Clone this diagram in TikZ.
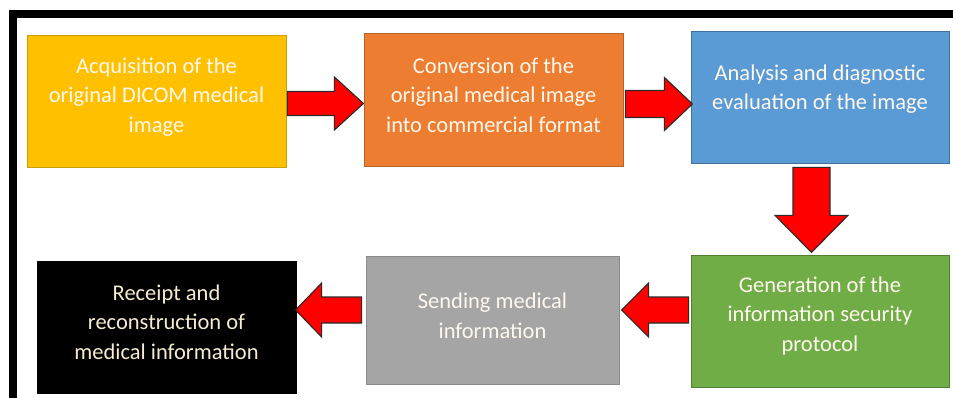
\documentclass[tikz,border=0pt]{standalone}
\usepackage{fontspec}
\setmainfont{Carlito}
\usetikzlibrary{calc}
\definecolor{cyellow}{HTML}{FFC000}
\definecolor{cyellowb}{HTML}{C9A000}
\definecolor{corange}{HTML}{ED7D31}
\definecolor{coranges}{HTML}{B8612A}
\definecolor{cblue}{HTML}{5B9BD5}
\definecolor{cblueb}{HTML}{41719C}
\definecolor{cgreen}{HTML}{70AD47}
\definecolor{cgreenb}{HTML}{507E32}
\definecolor{cgray}{HTML}{A5A5A5}
\definecolor{cgrayb}{HTML}{8A8A8A}
\definecolor{ctext}{HTML}{FFF8EE}
\definecolor{ctextb}{HTML}{F6ECD2}
\definecolor{arrowred}{HTML}{FF0000}
\definecolor{arrowedge}{HTML}{2A2A2A}
\tikzset{
  boxnode/.style={draw, line width=0.8pt, minimum width=#1, inner sep=0pt},
  txtnode/.style={align=center, text=ctext, inner sep=0pt,
    font=\fontsize{22.5}{29.5}\selectfont},
  arrowshape/.style={draw=arrowedge, fill=arrowred, line width=1.1pt, line join=miter},
  framestyle/.style={line width=8pt, black}
}
\newcommand\blockarr[6]{%
\begin{scope}[shift={(#1)}, rotate=#2]
\draw[arrowshape] (0,#4) -- ({#3-#6},#4) -- ({#3-#6},#5) -- (#3,0) -- ({#3-#6},-#5) -- ({#3-#6},-#4) -- (0,-#4) -- cycle;
\end{scope}}
\begin{document}
\begin{tikzpicture}[x=1pt,y=1pt]
\useasboundingbox (0,0) rectangle (953,-398);
\clip (0,0) rectangle (953,-398);
\fill[white] (0,0) rectangle (953,-398);
% frame
\coordinate (fbl) at (13,-405);
\coordinate (ftl) at (13,-14);
\coordinate (ftr) at (960,-14);
\draw[framestyle] (fbl) -- (ftl) -- (ftr);
% boxes
\node[boxnode=259pt, minimum height=132pt, fill=cyellow, draw=cyellowb] (b1) at (156.5,-101) {};
\node[boxnode=259pt, minimum height=133pt, fill=corange, draw=coranges] (b2) at (493.5,-99.5) {};
\node[boxnode=258pt, minimum height=132pt, fill=cblue, draw=cblueb] (b3) at (820,-97) {};
\node[boxnode=258pt, minimum height=132pt, fill=cgreen, draw=cgreenb] (b4) at (820,-321) {};
\node[boxnode=253pt, minimum height=128pt, fill=cgray, draw=cgrayb] (b5) at (492.5,-320) {};
\node[boxnode=259pt, minimum height=132pt, fill=black, draw=black] (b6) at (166.5,-327) {};
% texts
\node[txtnode] (t1) at ($(b1.center)+(0,4)$) {Acquisition of the\\original DICOM medical\\image};
\node[txtnode] (t2) at ($(b2.center)+(0,4.5)$) {Conversion of the\\original medical image\\into commercial format};
\node[txtnode] (t3) at ($(b3.center)+(0,8)$) {Analysis and diagnostic\\evaluation of the image};
\node[txtnode] (t4) at ($(b4.center)+(0,5)$) {Generation of the\\information security\\protocol};
\node[txtnode] (t5) at ($(b5.center)+(0,4)$) {Sending medical\\information};
\node[txtnode, text=ctextb] (t6) at ($(b6.center)+(0,5)$) {Receipt and\\reconstruction of\\medical information};
% arrows
\coordinate (a1) at ($(b1.east)+(1,-2.5)$);
\coordinate (a2) at ($(b2.east)+(2,-4.5)$);
\coordinate (a3) at ($(b3.south)+(-8.5,-4)$);
\coordinate (a4) at ($(b4.west)+(-2,11)$);
\coordinate (a5) at ($(b5.west)+(-4,10)$);
\blockarr{a1}{0}{76}{12}{26.5}{29}
\blockarr{a2}{0}{67}{13.5}{26.5}{28}
\blockarr{a3}{-90}{85}{18.5}{36.5}{37}
\blockarr{a4}{180}{67}{13}{27}{27}
\blockarr{a5}{180}{66}{13}{27}{26}
\end{tikzpicture}
\end{document}
